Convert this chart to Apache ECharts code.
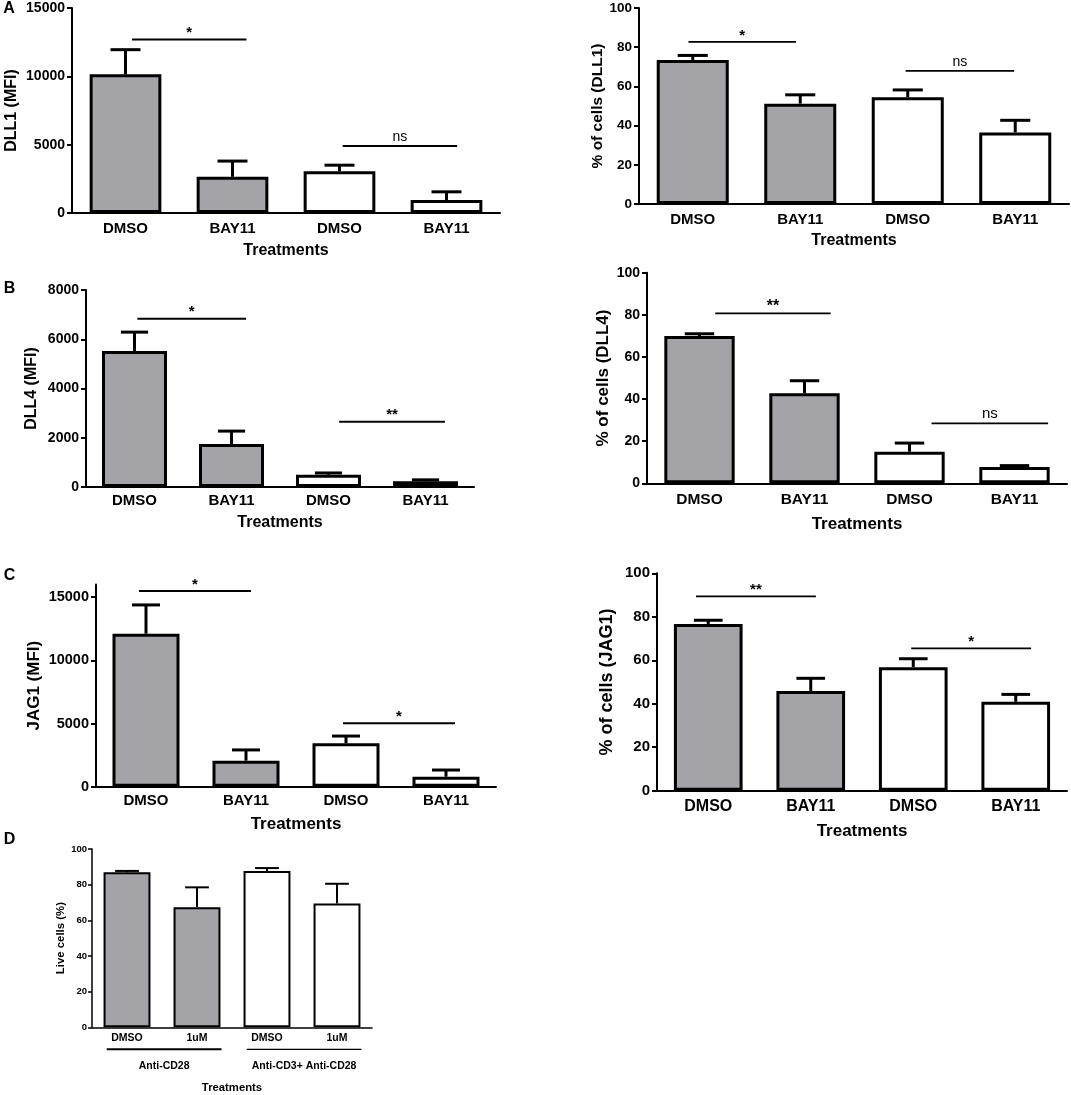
<!DOCTYPE html>
<html><head><meta charset="utf-8">
<script src="https://cdn.jsdelivr.net/npm/echarts@6/dist/echarts.min.js"></script>
<style>html,body{margin:0;padding:0;background:#fff}#c{width:1071px;height:1095px}</style>
</head><body><div id="c"></div>
<script>
const FONT = '"Liberation Sans", Arial, Helvetica, sans-serif';
const GRAY = '#a4a3a8';

// ---------- data ----------
const treatmentCategories = ['DMSO', 'BAY11', 'DMSO', 'BAY11'];
const viabilityCategories = ['DMSO', '1uM', 'DMSO', '1uM'];
const viabilityGroups = ['Anti-CD28', 'Anti-CD3+ Anti-CD28'];
const viabilityGroupSpans = [[0, 1], [2, 3]];

const mfiTicks15000 = [0, 5000, 10000, 15000];
const mfiTicks8000 = [0, 2000, 4000, 6000, 8000];
const percentTicks = [0, 20, 40, 60, 80, 100];

// A: DLL1
const dll1Mfi = [10150, 2650, 3050, 950];
const dll1MfiErrTop = [11950, 3800, 3500, 1550];
const dll1MfiSig = [[0.06, 1.13, 12700, '*'], [2.03, 3.10, 4900, 'ns']];
const dll1Pct = [73.5, 51.2, 54.5, 36.5];
const dll1PctErrTop = [75.8, 55.7, 58.2, 42.7];
const dll1PctSig = [[-0.04, 0.96, 82.7, '*'], [1.98, 2.99, 67.9, 'ns']];
// B: DLL4
const dll4Mfi = [5520, 1750, 500, 230];
const dll4MfiErrTop = [6290, 2270, 570, 290];
const dll4MfiSig = [[0.03, 1.15, 6830, '*'], [2.11, 3.20, 2650, '**']];
const dll4Pct = [69.9, 42.7, 15.0, 7.7];
const dll4PctErrTop = [71.0, 48.7, 19.1, 8.4];
const dll4PctSig = [[0.15, 1.25, 80.7, '**'], [2.21, 3.32, 28.5, 'ns']];
// C: JAG1
const jag1Mfi = [12110, 2060, 3440, 790];
const jag1MfiErrTop = [14390, 2910, 4010, 1320];
const jag1MfiSig = [[-0.07, 1.05, 15500, '*'], [1.97, 3.09, 5020, '*']];
const jag1Pct = [76.7, 45.9, 56.8, 40.9];
const jag1PctErrTop = [78.4, 51.7, 60.7, 44.3];
const jag1PctSig = [[-0.12, 1.05, 89.4, '**'], [1.98, 3.15, 65.5, '*']];
// D: viability
const liveCells = [86.9, 67.3, 87.7, 69.5];
const liveCellsErrTop = [87.7, 78.5, 89.3, 80.5];

// ---------- builder ----------
const option = { animation: false, grid: [], xAxis: [], yAxis: [], series: [], graphic: [] };

function addPanel(p) {
  const k = option.grid.length;
  const s = p.scale;
  option.grid.push({ left: p.box[0], top: p.box[1], width: p.box[2], height: p.box[3] });
  option.xAxis.push({
    type: 'category', gridIndex: k, data: p.cats,
    axisLine: { lineStyle: { color: '#000', width: s.axisW } },
    axisTick: { alignWithLabel: true, length: s.xTick, lineStyle: { color: '#000', width: 1.5 } },
    axisLabel: { color: '#000', fontWeight: 'bold', fontFamily: FONT, fontSize: s.xFont, margin: s.xMargin },
    name: 'Treatments', nameLocation: 'middle', nameGap: s.xNameGap,
    nameTextStyle: { color: '#000', fontWeight: 'bold', fontFamily: FONT, fontSize: s.xNameFont }
  });
  const t = p.ticks;
  option.yAxis.push({
    type: 'value', gridIndex: k, min: t[0], max: p.yMax != null ? p.yMax : t[t.length - 1],
    interval: t[1] - t[0],
    axisLine: { show: true, lineStyle: { color: '#000', width: s.axisW } },
    axisTick: { show: true, length: s.yTick, lineStyle: { color: '#000', width: s.axisW }, customValues: t },
    axisLabel: { color: '#000', fontWeight: 'bold', fontFamily: FONT, fontSize: s.yFont, margin: s.yMargin,
                 customValues: t, formatter: (v) => String(v) },
    splitLine: { show: false },
    name: p.yName, nameLocation: 'middle', nameGap: s.yNameGap,
    nameTextStyle: { color: '#000', fontWeight: 'bold', fontFamily: FONT, fontSize: s.yNameFont }
  });
  option.series.push({
    type: 'bar', xAxisIndex: k, yAxisIndex: k, data: p.mean, barWidth: '67%', silent: true,
    itemStyle: { color: (q) => (q.dataIndex < 2 ? GRAY : '#fff'), borderColor: '#000', borderWidth: s.barBorder }
  });
  option.series.push({
    type: 'custom', xAxisIndex: k, yAxisIndex: k, silent: true, z: 3,
    data: p.mean.map((m, i) => [i, m, p.errTop[i]]),
    renderItem: (params, api) => {
      const i = api.value(0);
      const a = api.coord([i, api.value(1)]);
      const b = api.coord([i, api.value(2)]);
      const cap = api.size([1, 0])[0] * s.cap;
      const st = { stroke: '#000', lineWidth: s.barBorder };
      return { type: 'group', children: [
        { type: 'line', shape: { x1: a[0], y1: a[1], x2: b[0], y2: b[1] }, style: st },
        { type: 'line', shape: { x1: b[0] - cap / 2, y1: b[1], x2: b[0] + cap / 2, y2: b[1] }, style: st }
      ] };
    }
  });
  if (p.sig) {
    option.series.push({
      type: 'custom', xAxisIndex: k, yAxisIndex: k, silent: true, z: 4,
      data: p.sig.map(g => [0, g[2]]),
      renderItem: (params, api) => {
        const g = p.sig[params.dataIndex];
        const c0 = api.coord([0, g[2]]);
        const bw = api.size([1, 0])[0];
        const x1 = c0[0] + g[0] * bw, x2 = c0[0] + g[1] * bw, y = c0[1];
        const isNs = g[3] === 'ns';
        return { type: 'group', children: [
          { type: 'line', shape: { x1: x1, y1: y, x2: x2, y2: y }, style: { stroke: '#000', lineWidth: s.sigW } },
          { type: 'text', x: (x1 + x2) / 2, y: y - (isNs ? 2 : -1),
            style: { text: g[3], fill: '#000', fontFamily: FONT, fontWeight: isNs ? 'normal' : 'bold',
                     fontSize: isNs ? s.nsFont : s.starFont, align: 'center', verticalAlign: 'bottom' } }
        ] };
      }
    });
  }
  if (p.groups) {
    option.series.push({
      type: 'custom', xAxisIndex: k, yAxisIndex: k, silent: true, clip: false,
      data: p.groups.map(g => [g[0], 0]),
      renderItem: (params, api) => {
        const g = p.groups[params.dataIndex];
        const base = api.coord([0, 0]);
        const bw = api.size([1, 0])[0];
        const x1 = base[0] + (g[0] - 0.29) * bw, x2 = base[0] + (g[1] + 0.35) * bw;
        const y = base[1] + 22;
        return { type: 'group', children: [
          { type: 'line', shape: { x1: x1, y1: y, x2: x2, y2: y }, style: { stroke: '#000', lineWidth: params.dataIndex === 0 ? 2 : 1.2 } },
          { type: 'text', x: (x1 + x2) / 2, y: y + 17,
            style: { text: p.groupNames[params.dataIndex], fill: '#000', fontFamily: FONT, fontWeight: 'bold',
                     fontSize: s.groupFont, align: 'center', verticalAlign: 'middle' } }
        ] };
      }
    });
  }
}

const big = (o) => Object.assign({ axisW: 2, xTick: 4, yTick: 5, xFont: 15, xMargin: 8, xNameGap: 30, xNameFont: 16,
  yFont: 14, yMargin: 7, yNameGap: 50, yNameFont: 16, barBorder: 3, cap: 0.28, sigW: 2, starFont: 15, nsFont: 14 }, o);

addPanel({ box: [72, 8, 428, 205], cats: treatmentCategories, ticks: mfiTicks15000, mean: dll1Mfi, errTop: dll1MfiErrTop,
  sig: dll1MfiSig, yName: 'DLL1 (MFI)', scale: big({ yNameGap: 52, xNameGap: 30 }) });
addPanel({ box: [639, 8, 430, 196], cats: treatmentCategories, ticks: percentTicks, mean: dll1Pct, errTop: dll1PctErrTop,
  sig: dll1PctSig, yName: '% of cells (DLL1)', scale: big({ yFont: 13.5, yNameGap: 33, xNameGap: 29, sigW: 1.8, yNameFont: 15.5 }) });
addPanel({ box: [86, 290, 388, 197], cats: treatmentCategories, ticks: mfiTicks8000, mean: dll4Mfi, errTop: dll4MfiErrTop,
  sig: dll4MfiSig, yName: 'DLL4 (MFI)', scale: big({ xMargin: 6, yNameGap: 46, xNameGap: 28 }) });
addPanel({ box: [647, 272.7, 420, 210.6], cats: treatmentCategories, ticks: percentTicks, mean: dll4Pct, errTop: dll4PctErrTop,
  sig: dll4PctSig, yName: '% of cells (DLL4)', scale: big({ xFont: 15.5, yNameGap: 35, yNameFont: 17, xNameFont: 17, xNameGap: 33, sigW: 1.8, starFont: 16, nsFont: 15 }) });
addPanel({ box: [96, 584.6, 400, 202.1], cats: treatmentCategories, ticks: mfiTicks15000, yMax: 16000, mean: jag1Mfi, errTop: jag1MfiErrTop,
  sig: jag1MfiSig, yName: 'JAG1 (MFI)', scale: big({ yFont: 14.5, xMargin: 7, yNameGap: 53, yNameFont: 17, xNameFont: 17, xNameGap: 29 }) });
addPanel({ box: [657, 573.3, 410, 217.4], cats: treatmentCategories, ticks: percentTicks, mean: jag1Pct, errTop: jag1PctErrTop,
  sig: jag1PctSig, yName: '% of cells (JAG1)', scale: big({ yFont: 15, xFont: 16, yNameGap: 41, yNameFont: 18, xNameFont: 17, xNameGap: 32, sigW: 1.8 }) });
addPanel({ box: [92, 849, 280, 178.3], cats: viabilityCategories, ticks: percentTicks, mean: liveCells, errTop: liveCellsErrTop,
  groups: viabilityGroupSpans, groupNames: viabilityGroups, yName: 'Live cells (%)',
  scale: big({ axisW: 1.5, xTick: 3, yTick: 4, xFont: 10.5, xMargin: 5, xNameGap: 55, xNameFont: 11.3, yFont: 9.5, yMargin: 5,
    yNameGap: 26, yNameFont: 11.4, barBorder: 2, cap: 0.34, groupFont: 10.5 }) });

[['A', 9, 9], ['B', 9.5, 289], ['C', 9.5, 576], ['D', 9.5, 840]].forEach(([t, x, y]) => {
  option.graphic.push({ type: 'text', x: x, y: y, style: { text: t, fill: '#000', fontFamily: FONT, fontWeight: 'bold',
    fontSize: 16, align: 'center', verticalAlign: 'middle' } });
});

const chart = echarts.init(document.getElementById('c'), null, { renderer: 'canvas' });
chart.setOption(option);
</script></body></html>
